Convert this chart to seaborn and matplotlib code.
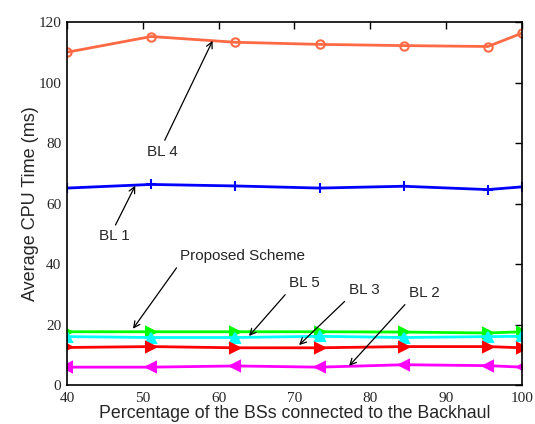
import numpy as np
import pandas as pd
import seaborn as sns
import matplotlib.pyplot as plt

# x positions (percentage of BSs connected to backhaul)
pct = [40, 51.1, 62.2, 73.3, 84.4, 95.5, 100]

bl4 = [110.0, 115.2, 113.3, 112.6, 112.2, 111.9, 116.3]
bl1 = [65.1, 66.3, 65.8, 65.1, 65.7, 64.6, 65.5]
proposed = [17.6, 17.6, 17.6, 17.6, 17.5, 17.2, 17.6]
bl5 = [16.0, 15.7, 15.7, 16.1, 15.7, 16.0, 16.1]
bl3 = [12.4, 12.7, 12.3, 12.3, 12.7, 12.7, 12.3]
bl2 = [5.9, 5.9, 6.3, 5.9, 6.7, 6.4, 5.9]

series = {
    "BL 4": (bl4, "#FF6A45", "o"),
    "BL 1": (bl1, "#0000FF", "+"),
    "Proposed Scheme": (proposed, "#00FF00", ">"),
    "BL 5": (bl5, "#00FFFF", "^"),
    "BL 3": (bl3, "#FF0000", ">"),
    "BL 2": (bl2, "#FF00FF", "<"),
}

sns.set_style("white")

fig = plt.figure(figsize=(5.35, 4.24), dpi=100)
ax = fig.add_axes([67 / 535, 1 - 385 / 424, (522 - 67) / 535, (385 - 22) / 424])

for name, (vals, col, mk) in series.items():
    df = pd.DataFrame({"x": pct, "y": vals})
    kw = dict(marker=mk, markersize=7, markeredgewidth=1.5, color=col, linewidth=2)
    if mk == "o":
        kw.update(markerfacecolor="none", markeredgecolor=col, markersize=6)
    else:
        kw.update(markeredgecolor=col, markerfacecolor=col)
    sns.lineplot(data=df, x="x", y="y", ax=ax, **kw)

ax.set_xlim(40, 100)
ax.set_ylim(0, 120)
ax.set_xticks(range(40, 101, 10))
ax.set_yticks(range(0, 121, 20))
for s in ax.spines.values():
    s.set_color("black")
    s.set_linewidth(1.2)
ax.tick_params(direction="in", top=True, right=True, length=5, width=1, color="black")
ax.tick_params(axis="y", pad=4)
ax.tick_params(axis="x", pad=5)
for lbl in ax.get_xticklabels() + ax.get_yticklabels():
    lbl.set_fontfamily("Liberation Serif")
    lbl.set_fontsize(11)

ax.set_xlabel("Percentage of the BSs connected to the Backhaul", fontsize=12.8,
              family="Liberation Sans", labelpad=0)
ax.set_ylabel("Average CPU Time (ms)", fontsize=13, family="Liberation Sans", labelpad=0)

# text, arrow tip, text centre, point of the text box where the arrow starts
notes = [
    ("BL 4", (59.2, 113.8), (52.6, 77.1), (0.5, 1.0)),
    ("BL 1", (49.0, 65.9), (46.3, 49.1), (0.45, 1.0)),
    ("Proposed Scheme", (48.7, 18.6), (63.1, 42.5), (0.0, 0.0)),
    ("BL 5", (64.0, 16.2), (71.3, 33.6), (0.0, 0.0)),
    ("BL 3", (70.6, 13.2), (79.2, 31.3), (0.0, 0.0)),
    ("BL 2", (77.2, 6.3), (87.1, 30.3), (0.0, 0.0)),
]
for txt, tip, pos, rp in notes:
    ax.annotate(txt, xy=tip, xytext=pos, ha="center", va="center", fontsize=11,
                family="Liberation Sans",
                arrowprops=dict(arrowstyle="->", color="black", lw=0.9,
                                shrinkA=1, shrinkB=0, relpos=rp))

fig.savefig("out.png", dpi=100)
